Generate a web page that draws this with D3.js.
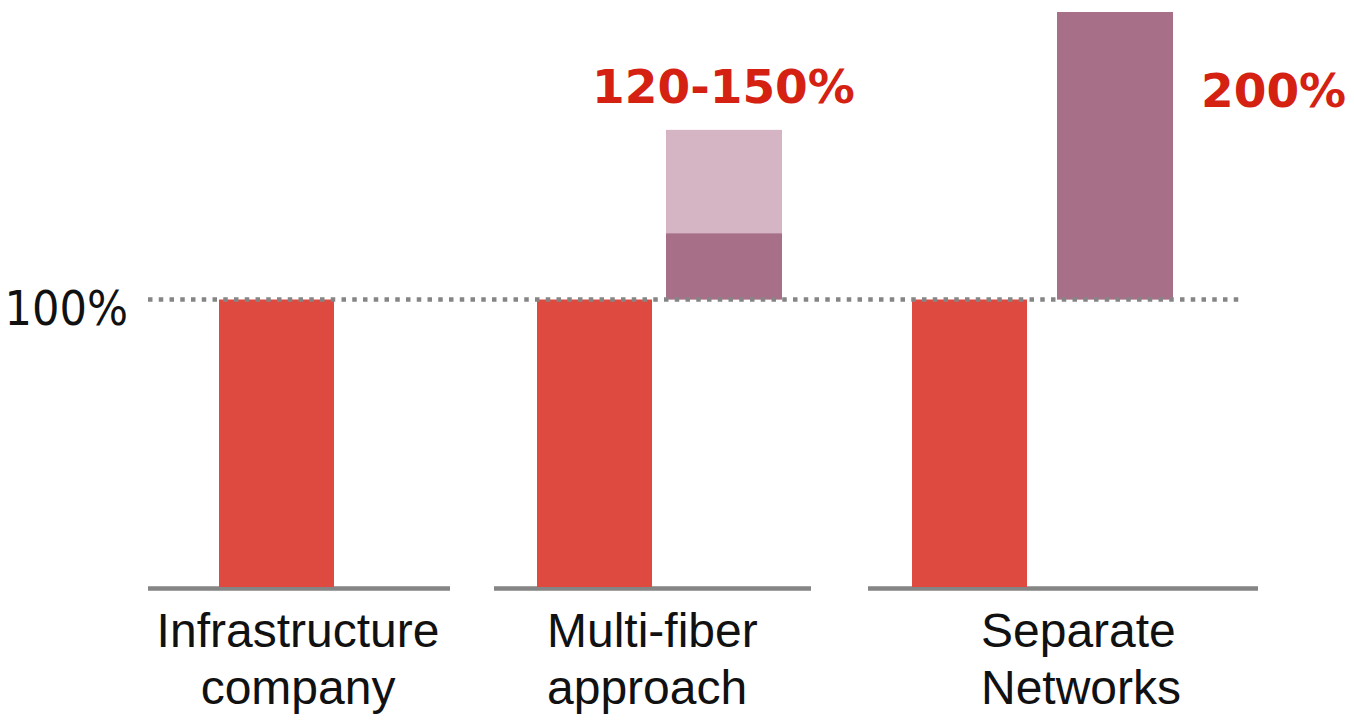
<!DOCTYPE html>
<html>
<head>
<meta charset="utf-8">
<script src="https://cdnjs.cloudflare.com/ajax/libs/d3/7.8.5/d3.min.js"></script>
<style>
  html, body { margin: 0; padding: 0; background: #fff; }
  svg { display: block; }
  .cat { font-family: "Liberation Sans", Arial, sans-serif; font-size: 48px; fill: #111; }
  .ylab { font-family: "DejaVu Sans Condensed", "DejaVu Sans", sans-serif; font-stretch: condensed; font-size: 48px; fill: #111; }
  .note { font-family: "DejaVu Sans", sans-serif; font-weight: bold; font-size: 47px; fill: #d42112; }
</style>
</head>
<body>
<svg id="chart" width="1354" height="721"></svg>
<script>
// ---- data ----
var categories = ["Infrastructure company", "Multi-fiber approach", "Separate Networks"];
var labelLines = [["Infrastructure", "company"], ["Multi-fiber", "approach"], ["Separate", "Networks"]];
var baseValues = [100, 100, 100];       // red bars, % of infrastructure-company cost
var extraLow   = [0, 23, 100];          // dark purple part on top of 100%
var extraHigh  = [0, 59, 100];          // light purple upper range
var noteLabels = ["", "120-150%", "200%"];
var refValue = 100;
var refLabel = "100%";

// ---- colours ----
var redColor = "#de4a3f",
    darkPurple = "#a87088",
    lightPurple = "#d5b5c4",
    lineGrey = "#858585";

var svg = d3.select("#chart");

// vertical scale: 0 sits on the baseline
var y = d3.scaleLinear().domain([0, 200]).range([587, 12]);

// horizontal placement of the groups (spacing in the original is irregular)
var barW = 115;
var xBase  = d3.scaleOrdinal().domain(categories).range([219, 537, 912]);
var xExtra = d3.scaleOrdinal().domain(categories).range([null, 666, 1057]);
var segStart = d3.scaleOrdinal().domain(categories).range([148, 494, 868]);
var segEnd   = d3.scaleOrdinal().domain(categories).range([450, 811, 1258]);
// first label is centred, the other two are left aligned in the original
var xLabel   = d3.scaleOrdinal().domain(categories).range([298, 547, 981]);
var anchor   = d3.scaleOrdinal().domain(categories).range(["middle", "start", "start"]);

var rows = categories.map(function(c, i) {
  return { cat: c, lines: labelLines[i], base: baseValues[i], low: extraLow[i], high: extraHigh[i], note: noteLabels[i] };
});

// baseline segments under each group
svg.append("g").selectAll("line")
  .data(rows)
  .join("line")
    .attr("x1", function(d) { return segStart(d.cat); })
    .attr("x2", function(d) { return segEnd(d.cat); })
    .attr("y1", y(0) + 1.5)
    .attr("y2", y(0) + 1.5)
    .attr("stroke", lineGrey)
    .attr("stroke-width", 4.5);

// red base bars
svg.append("g").selectAll("rect")
  .data(rows)
  .join("rect")
    .attr("x", function(d) { return xBase(d.cat); })
    .attr("y", function(d) { return y(d.base); })
    .attr("width", barW)
    .attr("height", function(d) { return y(0) - y(d.base); })
    .attr("fill", redColor);

var extras = rows.filter(function(d) { return d.high > 0; });

// light purple upper range
svg.append("g").selectAll("rect")
  .data(extras)
  .join("rect")
    .attr("x", function(d) { return xExtra(d.cat); })
    .attr("y", function(d) { return y(d.base + d.high); })
    .attr("width", barW + 1)
    .attr("height", function(d) { return y(d.base) - y(d.base + d.high); })
    .attr("fill", lightPurple);

// dark purple lower part
svg.append("g").selectAll("rect")
  .data(extras)
  .join("rect")
    .attr("x", function(d) { return xExtra(d.cat); })
    .attr("y", function(d) { return y(d.base + d.low); })
    .attr("width", barW + 1)
    .attr("height", function(d) { return y(d.base) - y(d.base + d.low); })
    .attr("fill", darkPurple);

// dotted 100% reference line (square dots)
svg.append("line")
  .attr("x1", 148)
  .attr("x2", 1241)
  .attr("y1", y(refValue))
  .attr("y2", y(refValue))
  .attr("stroke", lineGrey)
  .attr("stroke-width", 4.5)
  .attr("stroke-dasharray", "4.5 6.25");

svg.append("text")
  .attr("class", "ylab")
  .attr("x", 128)
  .attr("y", y(refValue) + 25)
  .attr("text-anchor", "end")
  .text(refLabel);

// red annotations
svg.append("text")
  .attr("class", "note")
  .attr("x", xExtra(categories[1]) + barW / 2)
  .attr("y", y(rows[1].base + rows[1].high) - 27)
  .attr("text-anchor", "middle")
  .text(rows[1].note);

svg.append("text")
  .attr("class", "note")
  .attr("x", xExtra(categories[2]) + barW + 29)
  .attr("y", 107)
  .text(rows[2].note);

// category labels, two lines each
var catG = svg.append("g").selectAll("text")
  .data(rows)
  .join("text")
    .attr("class", "cat")
    .attr("text-anchor", function(d) { return anchor(d.cat); })
    .attr("transform", function(d) { return "translate(" + xLabel(d.cat) + ",0)"; });

catG.selectAll("tspan")
  .data(function(d) { return d.lines; })
  .join("tspan")
    .attr("x", 0)
    .attr("y", function(d, i) { return 647 + i * 57; })
    .text(function(d) { return d; });
</script>
</body>
</html>
